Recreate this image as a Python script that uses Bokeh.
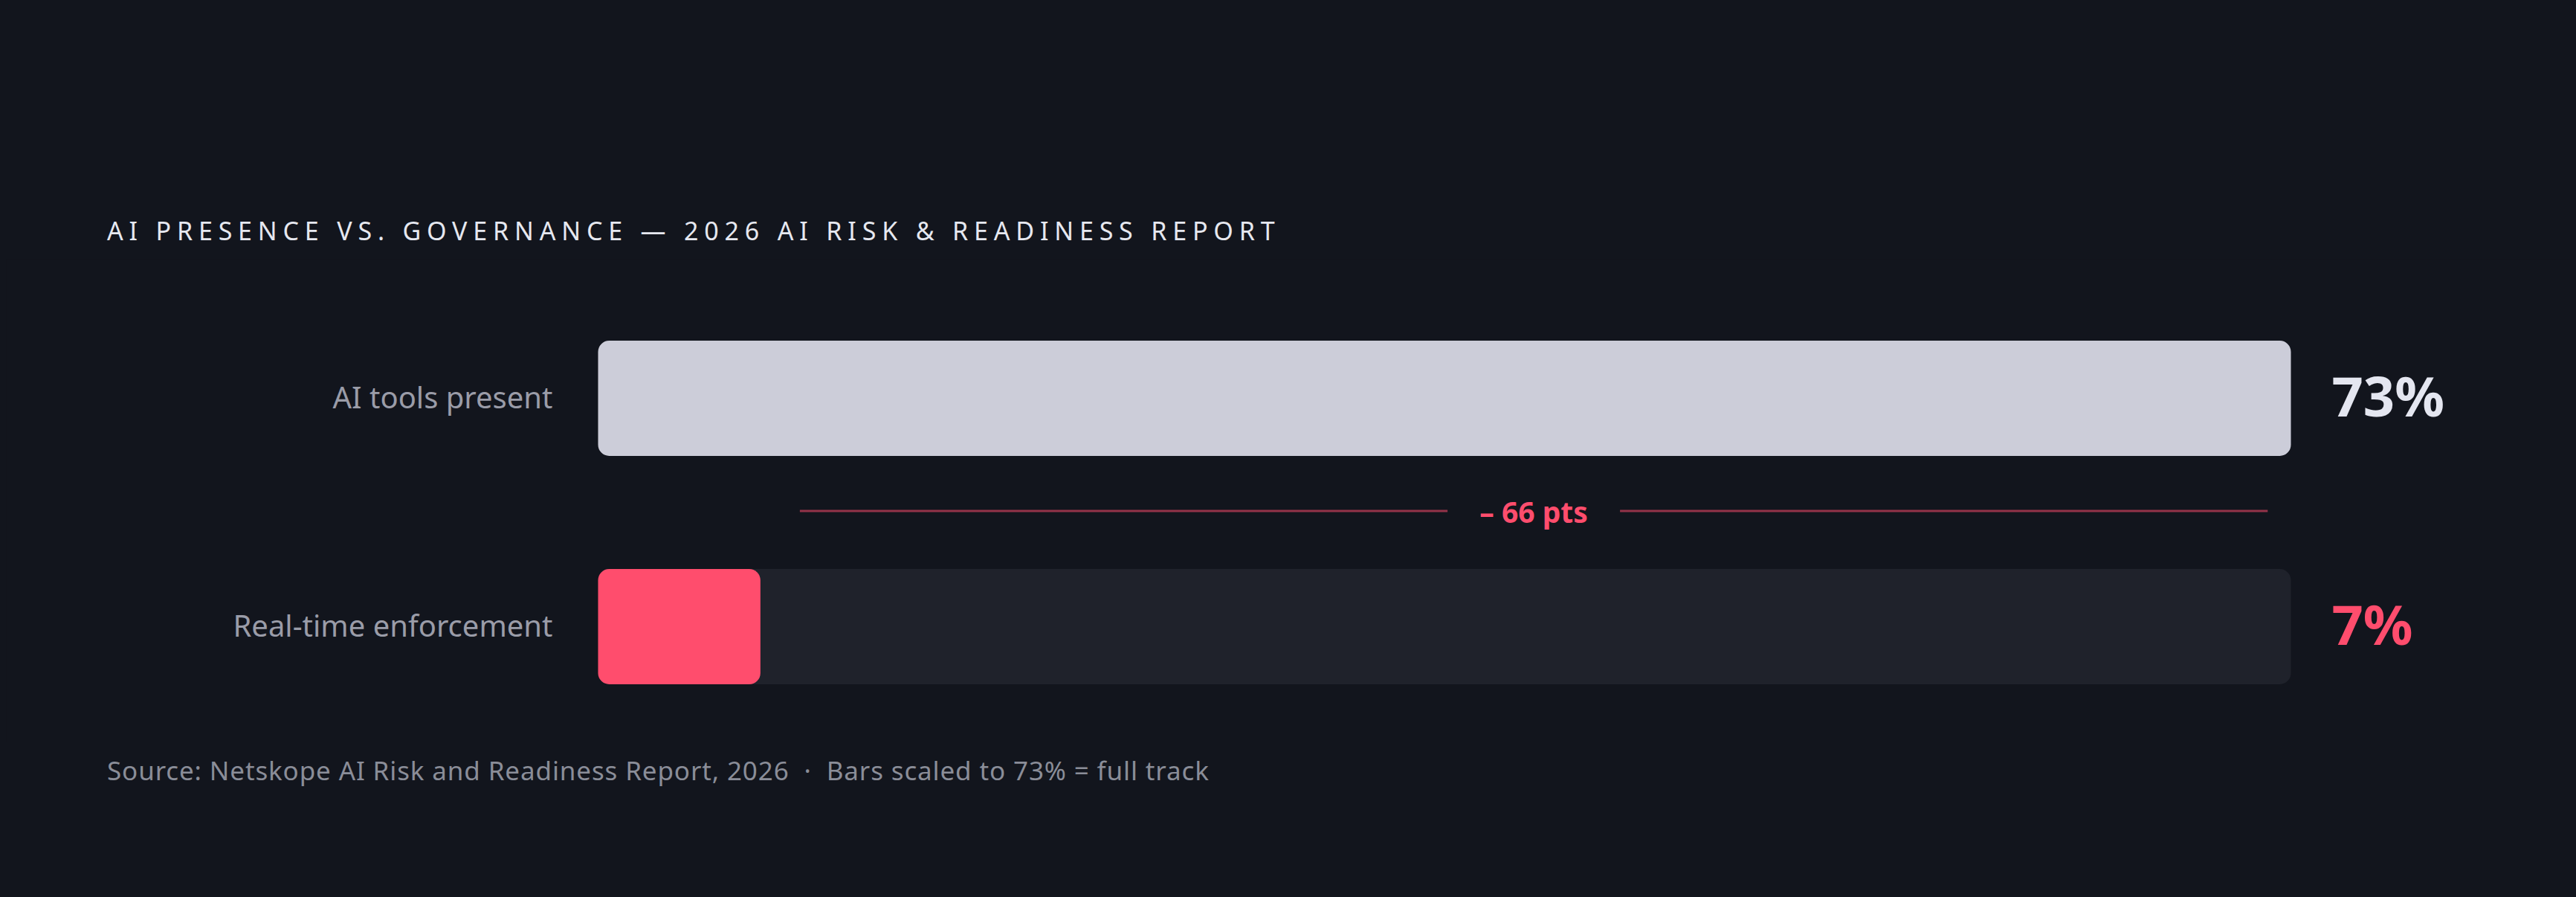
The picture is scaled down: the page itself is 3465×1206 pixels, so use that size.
import html as htmllib
from bokeh.plotting import figure
from bokeh.models import Range1d, ColumnDataSource, Div
from bokeh.layouts import column
from bokeh.core.properties import value
from bokeh.embed import file_html
from bokeh.resources import INLINE

# ---- data ----
categories = ["AI tools present", "Real-time enforcement"]
values = [73, 7]
value_labels = ["73%", "7%"]
scale_max = 73  # bars scaled to 73% = full track
gap_label = "\u2013 66 pts"
title_text = "AI PRESENCE VS. GOVERNANCE \u2014 2026 AI RISK & READINESS REPORT"
source_note = "Source: Netskope AI Risk and Readiness Report, 2026  \u00b7  Bars scaled to 73% = full track"

# ---- style ----
BG = "#12151d"
TRACK = "#1f222b"
BAR_LIGHT = "#cccdd9"
RED = "#ff4d6d"
TITLE_C = "#e6e8f0"
LABEL_C = "#9a9ca8"
NOTE_C = "#8a8d98"
VAL_C = ["#e4e6f0", RED]
BAR_C = [BAR_LIGHT, RED]
FONT = "Noto Sans"

W, H = 3449, 1190
T = 340   # top of the plot area (title strip above)
B = 990   # bottom of the plot area (source strip below)
track_px = 2277
x0_px = 796
px_per = track_px / scale_max

# title strip (HTML so that the letter-spacing of the original can be kept)
title_div = Div(
    text=('<div style="padding:285px 0 0 136px;font-family:\'Noto Sans\';'
          'font-size:34px;line-height:1;letter-spacing:0.23em;'
          f'color:{TITLE_C};white-space:nowrap;">{htmllib.escape(title_text)}</div>'),
    width=W, height=T, margin=0,
    styles={"background-color": BG},
)

p = figure(width=W, height=B - T, output_backend="svg", toolbar_location=None,
           x_range=Range1d(-x0_px / px_per, (W - x0_px) / px_per),
           y_range=Range1d(B, T), min_border=0, margin=0)
p.min_border_left = p.min_border_right = p.min_border_top = p.min_border_bottom = 0
p.axis.visible = False
p.grid.visible = False
p.outline_line_color = None
p.background_fill_color = BG
p.border_fill_color = BG

row_y = [527, 834]
bar_h = 155

src = ColumnDataSource(dict(y=row_y, cat=categories, val=values, lab=value_labels,
                            bc=BAR_C, vc=VAL_C, full=[scale_max] * len(values)))

# tracks
p.hbar(y="y", left=0, right="full", height=bar_h, source=src,
       fill_color=TRACK, line_color=None, border_radius=15)
# bars
p.hbar(y="y", left=0, right="val", height=bar_h, source=src,
       fill_color="bc", line_color=None, border_radius=15)

# category labels
p.text(x=-61 / px_per, y="y", text="cat", source=src, text_align="right",
       text_baseline="middle", text_color=LABEL_C, text_font=value(FONT),
       text_font_size="40px", y_offset=-2)
# value labels
p.text(x=scale_max + 55 / px_per, y="y", text="lab", source=src, text_align="left",
       text_baseline="middle", text_color="vc", text_font=value(FONT),
       text_font_size="74px", text_font_style="bold", y_offset=-4)

# gap annotation
gap_lo = values[1] + 1.7
gap_hi = values[0] - 1.0
gap_mid = (gap_lo + gap_hi) / 2
gap_y = (row_y[0] + row_y[1]) / 2 - 2
half_gap = 116 / px_per
p.segment(x0=[gap_lo, gap_mid + half_gap], y0=[gap_y, gap_y],
          x1=[gap_mid - half_gap, gap_hi], y1=[gap_y, gap_y],
          line_color=RED, line_alpha=0.55, line_width=3)
p.text(x=[gap_mid], y=[gap_y], text=[gap_label], text_align="center",
       text_baseline="middle", text_color=RED, text_font=value(FONT),
       text_font_size="39px", text_font_style="bold")

# source strip
note_div = Div(
    text=('<div style="padding:20px 0 0 136px;font-family:\'Noto Sans\';'
          'font-size:35px;line-height:1;letter-spacing:0.025em;'
          f'color:{NOTE_C};white-space:pre;">{htmllib.escape(source_note)}</div>'),
    width=W, height=H - B, margin=0,
    styles={"background-color": BG},
)

layout = column(title_div, p, note_div, spacing=0, margin=0)
page = file_html(layout, INLINE)
i = page.rfind("<body")
j = page.index(">", i)
page = page[:j] + f' style="margin:8px;background-color:{BG};"' + page[j:]
open("out.html", "w").write(page)
